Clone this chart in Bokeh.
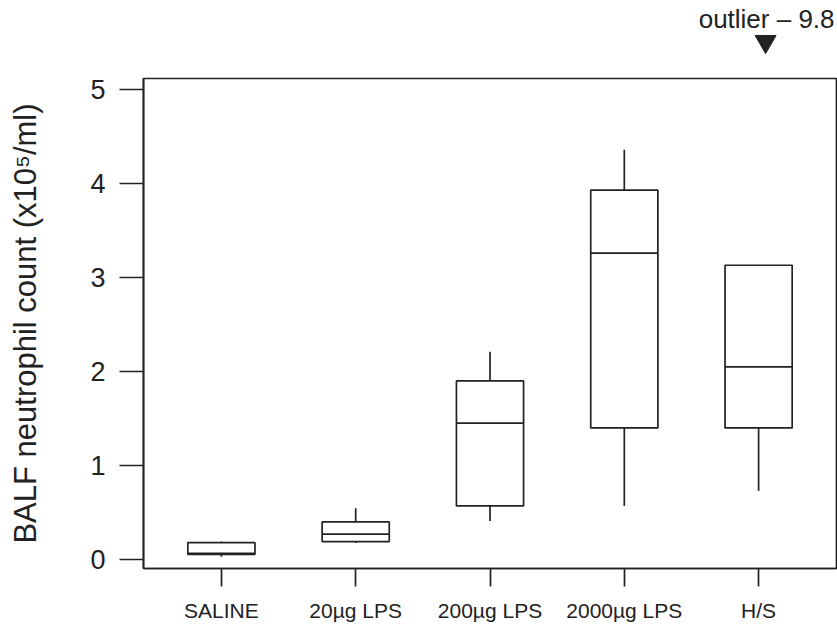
import math

import numpy as np
from bokeh.core.properties import value
from bokeh.embed import file_html
from bokeh.layouts import column
from bokeh.models import ColumnDataSource, FixedTicker, Range1d
from bokeh.plotting import figure
from bokeh.resources import INLINE

# Five-number summaries of BALF neutrophil counts (x10^5 cells/ml) per group
groups = ["SALINE", "20µg LPS", "200µg LPS", "2000µg LPS", "H/S"]
lower_whisker = [0.03, 0.175, 0.41, 0.57, 0.73]
q1 = [0.055, 0.19, 0.57, 1.40, 1.40]
median = [0.065, 0.27, 1.45, 3.26, 2.05]
q3 = [0.18, 0.40, 1.90, 3.93, 3.13]
upper_whisker = [0.19, 0.545, 2.21, 4.36, math.nan]  # H/S: upper whisker not drawn

# Off-scale value in the H/S group, flagged above the plot
outlier_group = "H/S"
outlier_value = 9.8

y_ticks = [0, 1, 2, 3, 4, 5]

INK = "#222222"
FONT = "Liberation Sans"
LW = 1.7
BOX_WIDTH = 0.5
TOP_H = 60
PX_PER_X = 134.3  # horizontal pixels per category step

x = np.arange(1, len(groups) + 1, dtype=float)
src = ColumnDataSource(dict(
    x=x,
    left=x - BOX_WIDTH / 2,
    right=x + BOX_WIDTH / 2,
    lo=lower_whisker,
    q1=q1,
    med=median,
    q3=q3,
    hi=upper_whisker,
))

x_range = Range1d(0.42, 5.58)

# ---- strip above the frame carrying the outlier note (y in pixels from its bottom) ----
top = figure(
    width=837, height=TOP_H,
    x_range=x_range, y_range=Range1d(0, TOP_H),
    output_backend="svg", toolbar_location=None,
    min_border_left=143, min_border_right=1,
    min_border_top=0, min_border_bottom=0,
)
top.title = None
top.axis.visible = False
top.grid.visible = False
top.outline_line_color = None
top.background_fill_color = "white"
top.border_fill_color = "white"

ox = x[groups.index(outlier_group)]
top.text(
    x=[ox], y=[TOP_H - 18], text=[f"outlier \u2013 {outlier_value}"],
    x_offset=8, text_font=value(FONT), text_font_size="26px", text_color=INK,
    text_align="center", text_baseline="alphabetic",
)
top.scatter(
    x=[ox + 7 / PX_PER_X], y=[TOP_H - 41], marker="inverted_triangle", size=21,
    fill_color=INK, line_color=INK,
)

# ---- main box plot ----
p = figure(
    width=837, height=628 - TOP_H,
    x_range=x_range,
    y_range=Range1d(-0.096, 5.117),
    output_backend="svg",
    toolbar_location=None,
    min_border_left=143, min_border_right=1,
    min_border_top=78 - TOP_H, min_border_bottom=60,
)
p.title = None
p.background_fill_color = "white"
p.border_fill_color = "white"
p.outline_line_color = INK
p.outline_line_width = LW
p.xgrid.visible = False
p.ygrid.visible = False

# whiskers (no caps)
p.segment(x0="x", y0="q3", x1="x", y1="hi", source=src, line_color=INK, line_width=LW)
p.segment(x0="x", y0="lo", x1="x", y1="q1", source=src, line_color=INK, line_width=LW)
# boxes
p.quad(left="left", right="right", bottom="q1", top="q3", source=src,
       fill_color="white", line_color=INK, line_width=LW)
# medians
p.segment(x0="left", y0="med", x1="right", y1="med", source=src, line_color=INK, line_width=LW)

# y axis
yax = p.yaxis[0]
yax.ticker = FixedTicker(ticks=y_ticks)
yax.major_tick_out = 24
yax.major_tick_in = 0
yax.minor_tick_out = 0
yax.minor_tick_in = 0
yax.axis_line_color = INK
yax.axis_line_width = LW
yax.major_tick_line_color = INK
yax.major_tick_line_width = LW
yax.major_label_text_font = FONT
yax.major_label_text_font_size = "27px"
yax.major_label_text_color = INK
yax.major_label_standoff = 14
yax.axis_label = "BALF neutrophil count (x10\u2075/ml)"
yax.axis_label_text_font = FONT
yax.axis_label_text_font_size = "31px"
yax.axis_label_text_font_style = "normal"
yax.axis_label_text_color = INK
yax.axis_label_standoff = 44

# x axis
xax = p.xaxis[0]
xax.ticker = FixedTicker(ticks=list(x))
xax.major_label_overrides = {float(v): g for v, g in zip(x, groups)}
xax.major_tick_out = 18
xax.major_tick_in = 0
xax.minor_tick_out = 0
xax.minor_tick_in = 0
xax.axis_line_color = INK
xax.axis_line_width = LW
xax.major_tick_line_color = INK
xax.major_tick_line_width = LW
xax.major_label_text_font = FONT
xax.major_label_text_font_size = "21px"
xax.major_label_text_color = INK
xax.major_label_standoff = 12

layout = column(top, p, spacing=0)
open("out.html", "w").write(file_html(layout, INLINE))
